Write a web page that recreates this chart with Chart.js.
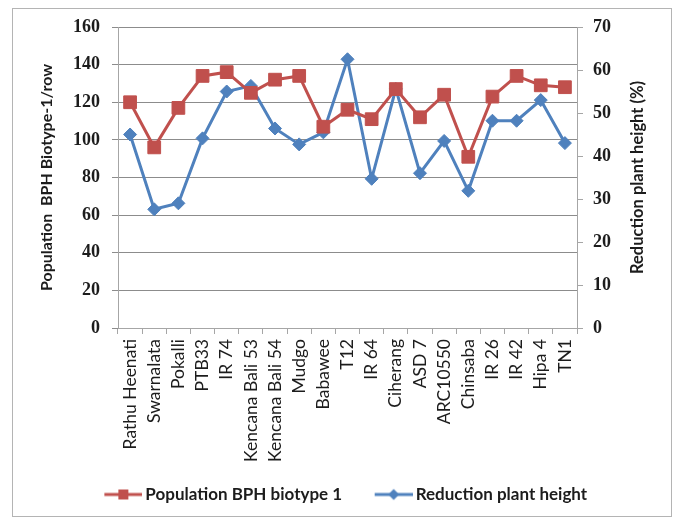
<!DOCTYPE html>
<html>
<head>
<meta charset="utf-8">
<script src="https://cdn.jsdelivr.net/npm/chart.js@4/dist/chart.umd.min.js"></script>
<style>
  html, body { margin: 0; padding: 0; background: #ffffff; }
  #wrap { width: 674px; height: 518px; position: relative; }
</style>
</head>
<body>
<div id="wrap"><canvas id="chart" width="674" height="518"></canvas></div>
<script>
// Rice varieties screened against brown planthopper (BPH) biotype 1
const varieties = ['Rathu Heenati', 'Swarnalata', 'Pokalli', 'PTB33', 'IR 74',
  'Kencana Bali 53', 'Kencana Bali 54', 'Mudgo', 'Babawee', 'T12', 'IR 64',
  'Ciherang', 'ASD 7', 'ARC10550', 'Chinsaba', 'IR 26', 'IR 42', 'Hipa 4', 'TN1'];

// BPH biotype-1 population per row (left axis)
const bphPopulation = [120, 96, 117, 134, 136, 125, 132, 134, 107, 116, 111,
  127, 112, 124, 91, 123, 134, 129, 128];

// Reduction of plant height in % (right axis)
const heightReduction = [45.0, 27.6, 29.0, 44.1, 55.0, 56.3, 46.4, 42.7, 45.5,
  62.5, 34.7, 55.6, 36.0, 43.5, 31.9, 48.2, 48.2, 53.0, 43.0];

// Axis ranges and tick steps
const leftTicks = { min: 0, max: 160, step: 20 };
const rightTicks = { min: 0, max: 70, step: 10 };

const seriesNames = ['Population BPH biotype 1', 'Reduction plant height'];
const axisTitles = ['Population  BPH Biotype-1/row', 'Reduction plant height (%)'];

const RED = '#C0504D';
const BLUE = '#4F81BD';
const GRID = '#8c8c8c';
const AXIS = '#a6a6a6';
const TEXT = '#1c1c1c';

// Legend symbol: a short line with the series marker in the middle.
// The visible part sits in the right 38px of a 58px canvas.
function legendSymbol(color, shape) {
  const c = document.createElement('canvas');
  c.width = 58; c.height = 14;
  const g = c.getContext('2d');
  g.strokeStyle = color;
  g.lineWidth = 3;
  g.beginPath(); g.moveTo(20, 7); g.lineTo(58, 7); g.stroke();
  g.fillStyle = color;
  g.beginPath();
  if (shape === 'square') {
    g.rect(34, 2, 10, 10);
  } else {
    g.moveTo(39, 1.5); g.lineTo(44.5, 7); g.lineTo(39, 12.5); g.lineTo(33.5, 7); g.closePath();
  }
  g.fill();
  return c;
}
const legendIcons = [legendSymbol(RED, 'square'), legendSymbol(BLUE, 'diamond')];

// Outer frame around the whole figure
const framePlugin = {
  id: 'frame',
  beforeDraw(chart) {
    const ctx = chart.ctx;
    ctx.save();
    ctx.fillStyle = '#ffffff';
    ctx.fillRect(0, 0, chart.width, chart.height);
    ctx.strokeStyle = '#b4b4b4';
    ctx.lineWidth = 1;
    ctx.strokeRect(12.5, 8.5, 659, 508);
    ctx.restore();
  }
};

// Right axis title, reading bottom-to-top
const rightTitlePlugin = {
  id: 'rightTitle',
  afterDraw(chart) {
    const ctx = chart.ctx;
    const area = chart.chartArea;
    ctx.save();
    ctx.translate(638, (area.top + area.bottom) / 2);
    ctx.rotate(-Math.PI / 2);
    ctx.font = 'bold 16.5px Lato';
    ctx.fillStyle = TEXT;
    ctx.textAlign = 'center';
    ctx.textBaseline = 'middle';
    ctx.fillText(axisTitles[1], 0, 0);
    ctx.restore();
  }
};

new Chart(document.getElementById('chart'), {
  type: 'line',
  data: {
    labels: varieties,
    datasets: [
      {
        label: seriesNames[0],
        data: bphPopulation,
        yAxisID: 'y',
        borderColor: RED,
        backgroundColor: RED,
        borderWidth: 3,
        pointStyle: 'rect',
        pointRadius: 9,
        pointBorderWidth: 1,
        pointBorderColor: RED,
        pointBackgroundColor: RED,
        tension: 0
      },
      {
        label: seriesNames[1],
        data: heightReduction,
        yAxisID: 'y1',
        borderColor: BLUE,
        backgroundColor: BLUE,
        borderWidth: 3,
        pointStyle: 'rectRot',
        pointRadius: 6.5,
        pointBorderWidth: 1,
        pointBorderColor: BLUE,
        pointBackgroundColor: BLUE,
        tension: 0
      }
    ]
  },
  options: {
    responsive: false,
    animation: false,
    devicePixelRatio: 1,
    layout: { padding: { left: 3, right: 0, top: 27, bottom: 5 } },
    plugins: {
      tooltip: { enabled: false },
      legend: {
        position: 'bottom',
        align: 'center',
        labels: {
          padding: 18,
          usePointStyle: true,
          pointStyleWidth: 47,
          color: TEXT,
          font: { family: 'Lato', size: 17, weight: 'bold' },
          generateLabels(chart) {
            return chart.data.datasets.map((ds, i) => ({
              text: ds.label,
              pointStyle: legendIcons[i],
              fillStyle: ds.borderColor,
              strokeStyle: ds.borderColor,
              lineWidth: 0,
              hidden: false,
              datasetIndex: i,
              fontColor: TEXT
            }));
          }
        }
      }
    },
    scales: {
      x: {
        offset: true,
        grid: { offset: true, drawOnChartArea: false, drawTicks: true, tickLength: 6, color: AXIS },
        border: { display: true, color: AXIS, width: 1 },
        ticks: {
          autoSkip: false,
          minRotation: 90,
          maxRotation: 90,
          padding: 5,
          color: TEXT,
          font: { family: 'Lato', size: 17.5 }
        },
        afterFit(scale) { scale.height = 140; }
      },
      y: {
        position: 'left',
        min: leftTicks.min,
        max: leftTicks.max,
        grid: { color: GRID, lineWidth: 1, drawTicks: true, tickLength: 6 },
        border: { display: true, color: AXIS, width: 1 },
        ticks: {
          stepSize: leftTicks.step,
          padding: 12,
          color: TEXT,
          font: { family: 'Liberation Serif', size: 18, weight: 'bold' }
        },
        title: {
          display: true,
          text: axisTitles[0],
          color: TEXT,
          font: { family: 'Lato', size: 16, weight: 'bold' },
          padding: { top: 34.4, bottom: 0 }
        },
        afterFit(scale) { scale.width = 115; }
      },
      y1: {
        position: 'right',
        min: rightTicks.min,
        max: rightTicks.max,
        grid: { drawOnChartArea: false, drawTicks: true, tickLength: 6, color: AXIS },
        border: { display: true, color: AXIS, width: 1 },
        ticks: {
          stepSize: rightTicks.step,
          padding: 10,
          color: TEXT,
          font: { family: 'Liberation Serif', size: 18, weight: 'bold' }
        },
        afterFit(scale) { scale.width = 97; }
      }
    }
  },
  plugins: [framePlugin, rightTitlePlugin]
});
</script>
</body>
</html>
